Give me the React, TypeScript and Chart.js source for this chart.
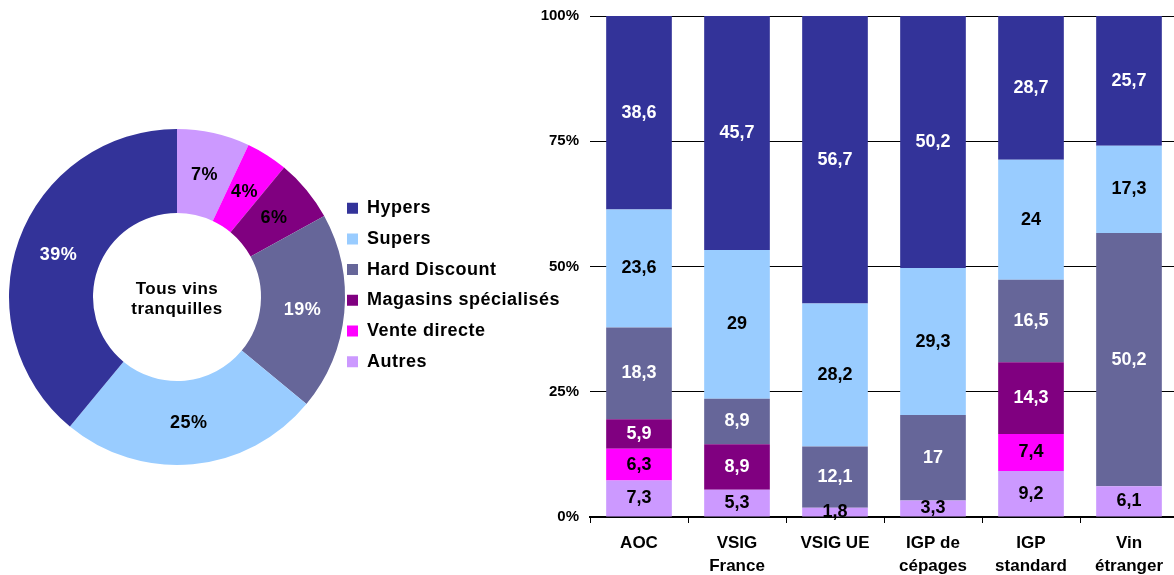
import React, { useEffect, useRef } from 'react';
import { Chart, registerables } from 'chart.js';

Chart.register(...registerables);

const FONT = "'Liberation Sans', Arial, Helvetica, sans-serif";

// Doughnut: "Tous vins tranquilles" (clockwise from 12 o'clock)
const channels = ['Autres', 'Vente directe', 'Magasins spécialisés', 'Hard Discount', 'Supers', 'Hypers'];
const channelColors = ['#CC99FF', '#FF00FF', '#800080', '#666699', '#99CCFF', '#333399'];
const shareAll = [7, 4, 6, 19, 25, 39];
const donutTextColors = ['#000000', '#000000', '#000000', '#FFFFFF', '#000000', '#FFFFFF'];
const centerLines = ['Tous vins', 'tranquilles'];

// Stacked bars, bottom to top: Autres, Vente directe, Magasins, Hard Discount, Supers, Hypers
const wineTypes: (string | string[])[] = ['AOC', ['VSIG', 'France'], 'VSIG UE', ['IGP de', 'cépages'], ['IGP', 'standard'], ['Vin', 'étranger']];
const autres = [7.3, 5.3, 1.8, 3.3, 9.2, 6.1];
const venteDirecte = [6.3, null, null, null, 7.4, null];
const magasins = [5.9, 8.9, null, null, 14.3, null];
const hardDiscount = [18.3, 8.9, 12.1, 17, 16.5, 50.2];
const supers = [23.6, 29, 28.2, 29.3, 24, 17.3];
const hypers = [38.6, 45.7, 56.7, 50.2, 28.7, 25.7];
const barTextColors = ['#000000', '#000000', '#FFFFFF', '#FFFFFF', '#000000', '#FFFFFF'];
const yTickValues = [0, 25, 50, 75, 100];

const barSeries: (number | null)[][] = [autres, venteDirecte, magasins, hardDiscount, supers, hypers];

// each bar is shown as a share of its column total (100 % stacked)
const columnTotals = wineTypes.map((_, i) => barSeries.reduce((s, arr) => s + (arr[i] ?? 0), 0));
const toPercent = (arr: (number | null)[]) => arr.map((v, i) => (v == null ? null : (v / columnTotals[i]) * 100));

const fmt = (v: number) => String(v).replace('.', ',');

const donutLabelsPlugin = {
  id: 'donutLabels',
  afterDatasetsDraw(chart: any) {
    const ctx = chart.ctx;
    const meta = chart.getDatasetMeta(0);
    ctx.save();
    ctx.font = `bold 18px ${FONT}`;
    ctx.textAlign = 'center';
    ctx.textBaseline = 'middle';
    meta.data.forEach((arc: any, i: number) => {
      const p = arc.tooltipPosition(true);
      ctx.fillStyle = donutTextColors[i];
      ctx.fillText(`${shareAll[i]}%`, p.x, p.y + 1);
    });
    const first = meta.data[0];
    if (first) {
      ctx.fillStyle = '#000000';
      ctx.font = `bold 17px ${FONT}`;
      ctx.textBaseline = 'alphabetic';
      ctx.fillText(centerLines[0], first.x, first.y - 3);
      ctx.fillText(centerLines[1], first.x, first.y + 17);
    }
    ctx.restore();
  },
};

// places the legend column to the right of the ring, with slightly wider lettering
const legendPlacementPlugin = {
  id: 'legendPlacement',
  beforeDraw(chart: any) {
    const lg = chart.legend;
    if (!lg) return;
    const w = lg.width;
    lg.left = 334.3;
    lg.right = lg.left + w;
    lg.top = 186.5;
    lg.bottom = lg.top + 400;
    chart.ctx.save();
    (chart.ctx as any).letterSpacing = '0.5px';
  },
  afterDraw(chart: any) {
    chart.ctx.restore();
  },
};

const barLabelsPlugin = {
  id: 'barLabels',
  afterDatasetsDraw(chart: any) {
    const ctx = chart.ctx;
    ctx.save();
    ctx.font = `bold 18px ${FONT}`;
    ctx.textAlign = 'center';
    ctx.textBaseline = 'middle';
    chart.data.datasets.forEach((ds: any, di: number) => {
      const meta = chart.getDatasetMeta(di);
      meta.data.forEach((bar: any, i: number) => {
        const v = ds.rawValues[i];
        if (v == null) return;
        const { x, y, base } = bar.getProps(['x', 'y', 'base'], true);
        ctx.fillStyle = ds.textColor;
        ctx.fillText(fmt(v), x, (y + base) / 2);
      });
    });
    ctx.restore();
  },
};

export default function App() {
  const donutRef = useRef<HTMLCanvasElement>(null);
  const barRef = useRef<HTMLCanvasElement>(null);

  useEffect(() => {
    const donut = new Chart(donutRef.current as HTMLCanvasElement, {
      type: 'doughnut',
      data: {
        labels: channels,
        datasets: [
          {
            data: shareAll,
            backgroundColor: channelColors,
            borderWidth: 0,
          },
        ],
      },
      options: {
        animation: false,
        responsive: false,
        events: [],
        cutout: '50%',
        layout: { padding: { left: 9, top: 129, right: 235, bottom: 110 } },
        plugins: {
          legend: {
            position: 'chartArea',
            align: 'start',
            reverse: true,
            labels: {
              boxWidth: 11,
              boxHeight: 11,
              padding: 12.7,
              color: '#000000',
              font: { family: FONT, size: 18, weight: 'bold' },
            },
          },
          tooltip: { enabled: false },
        },
      } as any,
      plugins: [legendPlacementPlugin, donutLabelsPlugin],
    });

    const bars = new Chart(barRef.current as HTMLCanvasElement, {
      type: 'bar',
      data: {
        labels: wineTypes as any,
        datasets: barSeries.map((arr, k) => ({
          label: channels[k],
          data: toPercent(arr),
          rawValues: arr,
          textColor: barTextColors[k],
          backgroundColor: channelColors[k],
          borderWidth: 0,
          categoryPercentage: 1,
          barPercentage: 0.67,
        })) as any,
      },
      options: {
        animation: false,
        responsive: false,
        events: [],
        layout: { padding: { left: 0, top: 16, right: 12, bottom: 0 } },
        plugins: {
          legend: { display: false },
          tooltip: { enabled: false },
        },
        scales: {
          x: {
            stacked: true,
            grid: {
              display: true,
              drawOnChartArea: false,
              drawTicks: true,
              tickLength: 6,
              color: '#000000',
              lineWidth: 1,
              offset: true,
            },
            border: { display: true, color: '#000000', width: 2 },
            ticks: {
              color: '#000000',
              padding: 9,
              maxRotation: 0,
              autoSkip: false,
              font: { family: FONT, size: 17, weight: 'bold', lineHeight: 1.35 },
            },
            afterFit: (s: any) => {
              s.height = 58;
            },
          },
          y: {
            stacked: true,
            min: 0,
            max: 100,
            grid: { color: '#000000', lineWidth: 1, drawTicks: false },
            border: { display: false },
            afterBuildTicks: (s: any) => {
              s.ticks = yTickValues.map((v) => ({ value: v }));
            },
            ticks: {
              padding: 11,
              color: '#000000',
              font: { family: FONT, size: 15, weight: 'bold' },
              callback: (v: any) => `${v}%`,
            },
            afterFit: (s: any) => {
              s.width = 60;
              s.paddingTop = 0;
              s.paddingBottom = 0;
            },
          },
        },
      } as any,
      plugins: [barLabelsPlugin],
    });

    return () => {
      donut.destroy();
      bars.destroy();
    };
  }, []);

  return (
    <div
      style={{
        position: 'fixed',
        left: 0,
        top: 0,
        width: 1174,
        height: 575,
        overflow: 'hidden',
        background: '#ffffff',
      }}
    >
      <canvas ref={donutRef} width={580} height={575} style={{ position: 'absolute', left: 0, top: 0 }} />
      <canvas ref={barRef} width={660} height={575} style={{ position: 'absolute', left: 530, top: 0 }} />
    </div>
  );
}
